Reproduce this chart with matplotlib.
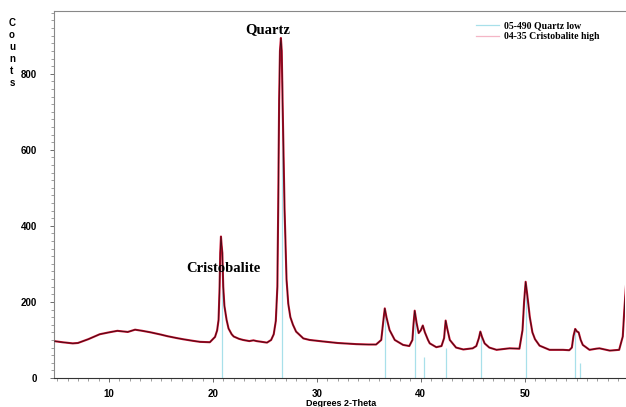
import matplotlib.pyplot as plt
from matplotlib.ticker import MultipleLocator
from matplotlib.lines import Line2D

# diffraction pattern
two_theta = [4.7, 5.5, 6.5, 7.0, 8.0, 9.1, 10.0, 10.8, 11.8, 12.5, 13.2, 14.0, 15.0, 15.6,
             16.5, 17.1, 18.0, 18.75, 19.7, 20.2, 20.4, 20.54, 20.64, 20.7, 20.77, 20.83,
             20.9, 20.99, 21.1, 21.31, 21.5, 21.8, 22.0, 22.5, 22.9, 23.5, 23.9, 24.2, 25.2,
             25.6, 25.85, 26.05, 26.2, 26.28, 26.37, 26.45, 26.54, 26.62, 26.7, 26.89, 27.08,
             27.25, 27.45, 27.7, 28.0, 28.7, 29.3, 30.6, 32.0, 33.8, 35.0, 35.7, 36.2, 36.4,
             36.54, 36.7, 37.0, 37.5, 38.3, 38.9, 39.2, 39.3, 39.42, 39.6, 39.8, 40.0, 40.2,
             40.4, 40.7, 40.87, 41.5, 42.0, 42.25, 42.4, 42.55, 42.8, 43.4, 44.1, 45.0, 45.35,
             45.6, 45.74, 45.9, 46.15, 46.6, 47.3, 48.55, 49.5, 49.8, 49.95, 50.1, 50.25,
             50.5, 50.75, 51.0, 51.44, 52.4, 53.7, 54.3, 54.55, 54.7, 54.87, 55.05, 55.2,
             55.4, 55.6, 56.25, 56.9, 57.2, 58.2, 59.1, 59.45, 59.6, 59.8]
counts = [97, 94, 91, 92, 102, 115, 120, 124, 121, 127, 124, 120, 114, 110,
          105, 102, 98, 95, 94, 108, 125, 153, 240, 329, 372, 350,
          329, 240, 190, 153, 130, 115, 109, 103, 100, 97, 99, 97, 93,
          100, 115, 150, 240, 447, 730, 860, 894, 860, 730, 447, 260,
          195, 160, 140, 122, 104, 100, 96, 92, 89, 88, 88, 100, 150,
          183, 160, 126, 100, 87, 84, 100, 140, 177, 145, 118, 125, 138,
          120, 100, 91, 81, 84, 105, 151, 130, 100, 80, 75, 78, 84,
          105, 122, 108, 91, 80, 74, 78, 77, 126, 200, 253, 220,
          160, 120, 102, 85, 74, 74, 73, 80, 110, 129, 122, 120,
          100, 87, 74, 77, 78, 72, 74, 109, 179, 260]

# reference stick lines (05-490 Quartz low)
quartz_pos = [20.86, 26.64, 36.54, 39.47, 40.29, 42.45, 45.79, 50.14, 54.87, 55.33, 59.96]
quartz_int = [330, 780, 175, 170, 55, 80, 110, 240, 125, 40, 200]

plt.rcParams["font.family"] = ["Liberation Sans", "DejaVu Sans"]

fig = plt.figure(figsize=(6.26, 4.07), dpi=100)
ax = fig.add_axes([0.0863, 0.0713, 0.9127, 0.9017])

ax.vlines(quartz_pos, 0, quartz_int, color="#a8e0ea", linewidth=0.9, zorder=1)
ax.plot(two_theta, counts, color="#c8102e", linewidth=1.5, zorder=2)
ax.plot(two_theta, counts, color="#3a0a14", linewidth=0.6, zorder=3)

ax.set_xlim(4.7, 59.7)
ax.set_ylim(0, 965)

ax.xaxis.set_major_locator(MultipleLocator(10))
ax.xaxis.set_minor_locator(MultipleLocator(1))
ax.yaxis.set_major_locator(MultipleLocator(200))
ax.yaxis.set_minor_locator(MultipleLocator(20))
ax.tick_params(axis="both", which="major", direction="out", length=3, width=0.6,
               labelsize=7, colors="#555555", labelcolor="black")
ax.tick_params(axis="both", which="minor", direction="out", length=2, width=0.5,
               colors="#777777")
ax.tick_params(axis="x", which="major", pad=5)
ax.tick_params(axis="y", which="major", pad=9)
for lab in ax.get_xticklabels() + ax.get_yticklabels():
    lab.set_fontweight("bold")

ax.spines["right"].set_visible(False)
ax.spines["top"].set_color("#888888")
ax.spines["left"].set_color("#888888")
ax.spines["bottom"].set_color("#333333")

fig.text(12 / 626, 1 - 53 / 407, "C\no\nu\nn\nt\ns", ha="center", va="center",
         fontsize=7, fontweight="bold", linespacing=1.25)
fig.text(341 / 626, 1 - 403 / 407, "Degrees 2-Theta", ha="center", va="center",
         fontsize=6.5, fontweight="bold")

ax.text(25.3, 916, "Quartz", ha="center", va="center", family=["Liberation Serif"],
        fontsize=10.5, fontweight="bold")
ax.text(21.0, 289, "Cristobalite", ha="center", va="center", family=["Liberation Serif"],
        fontsize=10.5, fontweight="bold")

handles = [Line2D([], [], color="#a8e0ea", linewidth=0.9),
           Line2D([], [], color="#f4b6c6", linewidth=0.9)]
ax.legend(handles, ["05-490 Quartz low", "04-35 Cristobalite high"],
          loc="upper left", bbox_to_anchor=(0.724, 0.995), frameon=False,
          handlelength=2.3, handletextpad=0.5, labelspacing=0.15,
          prop={"family": "Liberation Serif", "weight": "bold", "size": 7})

fig.savefig("out.png", dpi=100)
